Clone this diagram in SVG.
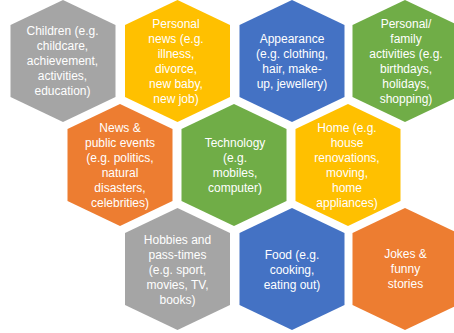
<svg xmlns="http://www.w3.org/2000/svg" xmlns:xlink="http://www.w3.org/1999/xlink" width="454" height="333" viewBox="0 0 454 333">
  <defs>
    <!-- pointy-top hexagon, centred on the origin -->
    <polygon id="hex" points="0,-61 52.5,-36 52.5,36 0,61 -52.5,36 -52.5,-36"/>
    <style>
      .gray   { fill: #A5A5A5; }
      .yellow { fill: #FFC000; }
      .blue   { fill: #4472C4; }
      .green  { fill: #70AD47; }
      .orange { fill: #ED7D31; }
      text {
        font-family: "Liberation Sans", Arial, sans-serif;
        font-size: 12px;
        fill: #FFFFFF;
        text-anchor: middle;
      }
    </style>
  </defs>
  <rect width="454" height="333" fill="#FFFFFF"/>

  <!-- row 1 -->
  <g id="children">
    <use xlink:href="#hex" x="63" y="61" class="gray"/>
    <text x="62.5" y="35"><tspan x="62.5">Children (e.g.</tspan><tspan x="62.5" dy="15">childcare,</tspan><tspan x="62.5" dy="15">achievement,</tspan><tspan x="62.5" dy="15">activities,</tspan><tspan x="62.5" dy="15">education)</tspan></text>
  </g>
  <g id="personal-news">
    <use xlink:href="#hex" x="177.5" y="61" class="yellow"/>
    <text x="176" y="27.5"><tspan x="176">Personal</tspan><tspan x="176" dy="15">news (e.g.</tspan><tspan x="176" dy="15">illness,</tspan><tspan x="176" dy="15">divorce,</tspan><tspan x="176" dy="15">new baby,</tspan><tspan x="176" dy="15">new job)</tspan></text>
  </g>
  <g id="appearance">
    <use xlink:href="#hex" x="292" y="61" class="blue"/>
    <text x="292" y="42.5"><tspan x="292">Appearance</tspan><tspan x="292" dy="15">(e.g. clothing,</tspan><tspan x="292" dy="15">hair, make-</tspan><tspan x="292" dy="15">up, jewellery)</tspan></text>
  </g>
  <g id="family-activities">
    <use xlink:href="#hex" x="405" y="61" class="green"/>
    <text x="406" y="27.5"><tspan x="406">Personal/</tspan><tspan x="406" dy="15">family</tspan><tspan x="406" dy="15">activities (e.g.</tspan><tspan x="406" dy="15">birthdays,</tspan><tspan x="406" dy="15">holidays,</tspan><tspan x="406" dy="15">shopping)</tspan></text>
  </g>

  <!-- row 2 -->
  <g id="news-events">
    <use xlink:href="#hex" x="120" y="165" class="orange"/>
    <text x="120" y="131.5"><tspan x="120">News &amp;</tspan><tspan x="120" dy="15">public events</tspan><tspan x="120" dy="15">(e.g. politics,</tspan><tspan x="120" dy="15">natural</tspan><tspan x="120" dy="15">disasters,</tspan><tspan x="120" dy="15">celebrities)</tspan></text>
  </g>
  <g id="technology">
    <use xlink:href="#hex" x="234" y="165" class="green"/>
    <text x="235" y="146.5"><tspan x="235">Technology</tspan><tspan x="235" dy="15">(e.g.</tspan><tspan x="235" dy="15">mobiles,</tspan><tspan x="235" dy="15">computer)</tspan></text>
  </g>
  <g id="home">
    <use xlink:href="#hex" x="348" y="165" class="yellow"/>
    <text x="347" y="131.5"><tspan x="347">Home (e.g.</tspan><tspan x="347" dy="15">house</tspan><tspan x="347" dy="15">renovations,</tspan><tspan x="347" dy="15">moving,</tspan><tspan x="347" dy="15">home</tspan><tspan x="347" dy="15">appliances)</tspan></text>
  </g>

  <!-- row 3 -->
  <g id="hobbies">
    <use xlink:href="#hex" x="177.5" y="269" class="gray"/>
    <text x="177.5" y="244"><tspan x="177.5">Hobbies and</tspan><tspan x="177.5" dy="15">pass-times</tspan><tspan x="177.5" dy="15">(e.g. sport,</tspan><tspan x="177.5" dy="15">movies, TV,</tspan><tspan x="177.5" dy="15">books)</tspan></text>
  </g>
  <g id="food">
    <use xlink:href="#hex" x="292" y="269" class="blue"/>
    <text x="292" y="259"><tspan x="292">Food (e.g.</tspan><tspan x="292" dy="15">cooking,</tspan><tspan x="292" dy="15">eating out)</tspan></text>
  </g>
  <g id="jokes">
    <use xlink:href="#hex" x="405" y="269" class="orange"/>
    <text x="405.5" y="258"><tspan x="405.5">Jokes &amp;</tspan><tspan x="405.5" dy="15">funny</tspan><tspan x="405.5" dy="15">stories</tspan></text>
  </g>
</svg>
